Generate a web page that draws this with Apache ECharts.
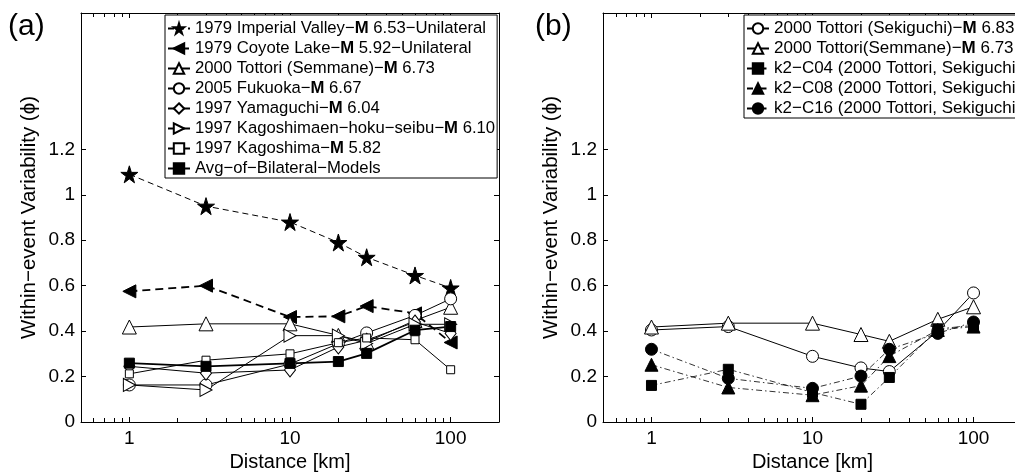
<!DOCTYPE html>
<html><head><meta charset="utf-8">
<script src="https://cdn.jsdelivr.net/npm/echarts@6/dist/echarts.min.js"></script>
<style>html,body{margin:0;padding:0;background:#fff}#c{width:1015px;height:472px}</style>
</head><body><div id="c"></div>
<script>
// ---------- data ----------
const distances = [1, 3, 10, 20, 30, 60, 100];
// panel (a)
const imperialValley  = [1.09, 0.95, 0.88, 0.79, 0.725, 0.645, 0.59];
const coyoteLake      = [0.575, 0.60, 0.462, 0.465, 0.51, 0.478, 0.35];
const tottoriSemmaneA = [0.418, 0.432, 0.432, 0.381, 0.352, 0.447, 0.505];
const fukuoka         = [0.163, 0.163, 0.255, 0.345, 0.392, 0.469, 0.542];
const yamaguchi       = [0.245, 0.215, 0.229, 0.330, 0.36, 0.44, 0.39];
const kagoshimaen     = [0.163, 0.141, 0.380, 0.380, 0.345, 0.43, 0.43];
const kagoshima       = [0.212, 0.272, 0.300, 0.349, 0.37, 0.362, 0.230];
const avgBilateral    = [0.259, 0.245, 0.258, 0.266, 0.302, 0.404, 0.42];
// panel (b)
const tottoriSekiguchi = [0.405, 0.42, 0.289, 0.238, 0.222, 0.40, 0.568];
const tottoriSemmaneB  = [0.418, 0.435, 0.435, 0.385, 0.355, 0.452, 0.507];
const k2C04 = [0.161, 0.232, 0.13, 0.078, 0.196, 0.41, 0.425];
const k2C08 = [0.252, 0.152, 0.118, 0.160, 0.290, 0.405, 0.42];
const k2C16 = [0.320, 0.192, 0.148, 0.202, 0.320, 0.390, 0.44];

const namesA = [
  '1979 Imperial Valley−M 6.53−Unilateral',
  '1979 Coyote Lake−M 5.92−Unilateral',
  '2000 Tottori (Semmane)−M 6.73',
  '2005 Fukuoka−M 6.67',
  '1997 Yamaguchi−M 6.04',
  '1997 Kagoshimaen−hoku−seibu−M 6.10',
  '1997 Kagoshima−M 5.82',
  'Avg−of−Bilateral−Models'
];
const namesB = [
  '2000 Tottori (Sekiguchi)−M 6.83',
  '2000 Tottori(Semmane)−M 6.73',
  'k2−C04 (2000 Tottori, Sekiguchi)',
  'k2−C08 (2000 Tottori, Sekiguchi)',
  'k2−C16 (2000 Tottori, Sekiguchi)'
];
const xTickValues = [1, 10, 100];
const xMinorTickValues = [0.5, 0.6, 0.7, 0.8, 0.9, 2, 3, 4, 5, 6, 7, 8, 9, 20, 30, 40, 50, 60, 70, 80, 90, 200];
const yTickValues = [0, 0.2, 0.4, 0.6, 0.8, 1, 1.2];
const xTitle = 'Distance [km]';
const yTitle = 'Within−event Variability (ϕ)';
const panelLabels = ['(a)', '(b)'];

// ---------- styles ----------
const FONT = 'Liberation Sans, Arial, Helvetica, sans-serif';
const STAR = 'path://M50,0 L61,35 L98,35 L68,57 L79,91 L50,70 L21,91 L32,57 L2,35 L39,35 Z';
const LTRI = 'path://M0,50 L100,0 L100,100 Z';
const RTRI = 'path://M100,50 L0,0 L0,100 Z';

const seriesA = [
  {data: imperialValley, symbol: STAR, size: 17, fill: '#000', type: [6, 4], width: 1},
  {data: coyoteLake, symbol: LTRI, size: [13, 13], fill: '#000', type: [8, 5], width: 1.8},
  {data: tottoriSemmaneA, symbol: 'triangle', size: 14, fill: '#fff', type: 'solid', width: 1},
  {data: fukuoka, symbol: 'circle', size: 12, fill: '#fff', type: 'solid', width: 1},
  {data: yamaguchi, symbol: 'diamond', size: [11, 14], fill: '#fff', type: 'solid', width: 1},
  {data: kagoshimaen, symbol: RTRI, size: [12, 13], fill: '#fff', type: 'solid', width: 1},
  {data: kagoshima, symbol: 'rect', size: 8, fill: '#fff', type: 'solid', width: 1},
  {data: avgBilateral, symbol: 'rect', size: 10, fill: '#000', type: 'solid', width: 1.8}
];
const seriesB = [
  {data: tottoriSekiguchi, symbol: 'circle', size: 12, fill: '#fff', type: 'solid', width: 1},
  {data: tottoriSemmaneB, symbol: 'triangle', size: 14, fill: '#fff', type: 'solid', width: 1},
  {data: k2C04, symbol: 'rect', size: 10, fill: '#000', type: [6, 3, 1.5, 3], width: 0.8},
  {data: k2C08, symbol: 'triangle', size: 13, fill: '#000', type: [6, 3, 1.5, 3], width: 0.8},
  {data: k2C16, symbol: 'circle', size: 12, fill: '#000', type: [6, 3, 1.5, 3], width: 0.8}
];

const grids = [
  {left: 81, top: 13, width: 418, height: 409, outerBoundsMode: 'none', containLabel: false},
  {left: 603, top: 13, width: 419, height: 409, outerBoundsMode: 'none', containLabel: false}
];

function xAxesFor(g) {
  const base = {type: 'log', logBase: 10, min: 0.5, max: 200, gridIndex: g, splitLine: {show: false}};
  const line = {show: true, onZero: false, lineStyle: {color: '#000', width: 1}};
  return [
    Object.assign({}, base, {
      position: 'bottom',
      axisLine: line,
      axisTick: {show: true, inside: true, length: 5, customValues: xTickValues, lineStyle: {color: '#000'}},
      axisLabel: {show: true, customValues: xTickValues, color: '#000', fontSize: 19, fontFamily: FONT, margin: 7},
      name: xTitle, nameLocation: 'middle', nameGap: 19,
      nameTextStyle: {color: '#000', fontSize: 20, fontFamily: FONT}
    }),
    Object.assign({}, base, {
      position: 'top',
      axisLine: line,
      axisTick: {show: true, inside: true, length: 5, customValues: xTickValues, lineStyle: {color: '#000'}},
      axisLabel: {show: false}
    }),
    Object.assign({}, base, {
      position: 'bottom',
      axisLine: {show: false, onZero: false},
      axisTick: {show: true, inside: true, length: 4, customValues: xMinorTickValues, lineStyle: {color: '#000'}},
      axisLabel: {show: false}
    }),
    Object.assign({}, base, {
      position: 'top',
      axisLine: {show: false, onZero: false},
      axisTick: {show: true, inside: true, length: 4, customValues: xMinorTickValues, lineStyle: {color: '#000'}},
      axisLabel: {show: false}
    })
  ];
}
function yAxesFor(g) {
  const base = {type: 'value', min: 0, max: 1.8, interval: 0.2, gridIndex: g, splitLine: {show: false},
    axisLine: {show: true, onZero: false, lineStyle: {color: '#000', width: 1}},
    axisTick: {show: true, inside: true, length: 5, customValues: yTickValues, lineStyle: {color: '#000'}}};
  return [
    Object.assign({}, base, {
      position: 'left',
      axisLabel: {show: true, customValues: yTickValues, color: '#000', fontSize: 19, fontFamily: FONT, margin: 6},
      name: yTitle, nameLocation: 'middle', nameGap: 41,
      nameTextStyle: {color: '#000', fontSize: 20.5, fontFamily: FONT}
    }),
    Object.assign({}, base, {position: 'right', axisLabel: {show: false}})
  ];
}

function buildSeries(list, names, g) {
  return list.map((s, i) => ({
    type: 'line',
    name: names[i],
    xAxisIndex: g * 4,
    yAxisIndex: g * 2,
    data: distances.map((d, k) => [d, s.data[k]]),
    symbol: s.symbol,
    symbolSize: s.size,
    showAllSymbol: true,
    animation: false,
    itemStyle: {color: s.fill, borderColor: '#000', borderWidth: 1},
    lineStyle: {color: '#000', width: s.width, type: s.type},
    emphasis: {disabled: true}
  }));
}

function legendFmt(name) {
  return name.replace('−M ', '−{bm|M} ');
}
function legendFor(names, left, padRight, fs) {
  return {
    orient: 'vertical', left: left, top: 15,
    data: names,
    itemWidth: 22, itemHeight: 13, itemGap: 3, itemTextGap: 3,
    padding: [5, padRight, 1, 2],
    backgroundColor: '#fff', borderColor: '#000', borderWidth: 1, borderRadius: 0,
    selectedMode: false,
    formatter: legendFmt,
    textStyle: {color: '#000', fontSize: fs, fontFamily: FONT, lineHeight: 17,
      rich: {bm: {fontWeight: 'bold', fontSize: fs, fontFamily: FONT, color: '#000'}}}
  };
}

const option = {
  backgroundColor: '#fff',
  animation: false,
  grid: grids,
  xAxis: xAxesFor(0).concat(xAxesFor(1)),
  yAxis: yAxesFor(0).concat(yAxesFor(1)),
  legend: [legendFor(namesA, 165, 2, 16.7), legendFor(namesB, 744, 20, 17)],
  series: buildSeries(seriesA, namesA, 0).concat(buildSeries(seriesB, namesB, 1)),
  graphic: [
    {type: 'text', left: 8, top: 12, style: {text: panelLabels[0], font: '30px ' + FONT, fill: '#000'}},
    {type: 'text', left: 535, top: 12, style: {text: panelLabels[1], font: '30px ' + FONT, fill: '#000'}}
  ]
};
const chart = echarts.init(document.getElementById('c'), null, {renderer: 'canvas'});
chart.setOption(option);
</script></body></html>
